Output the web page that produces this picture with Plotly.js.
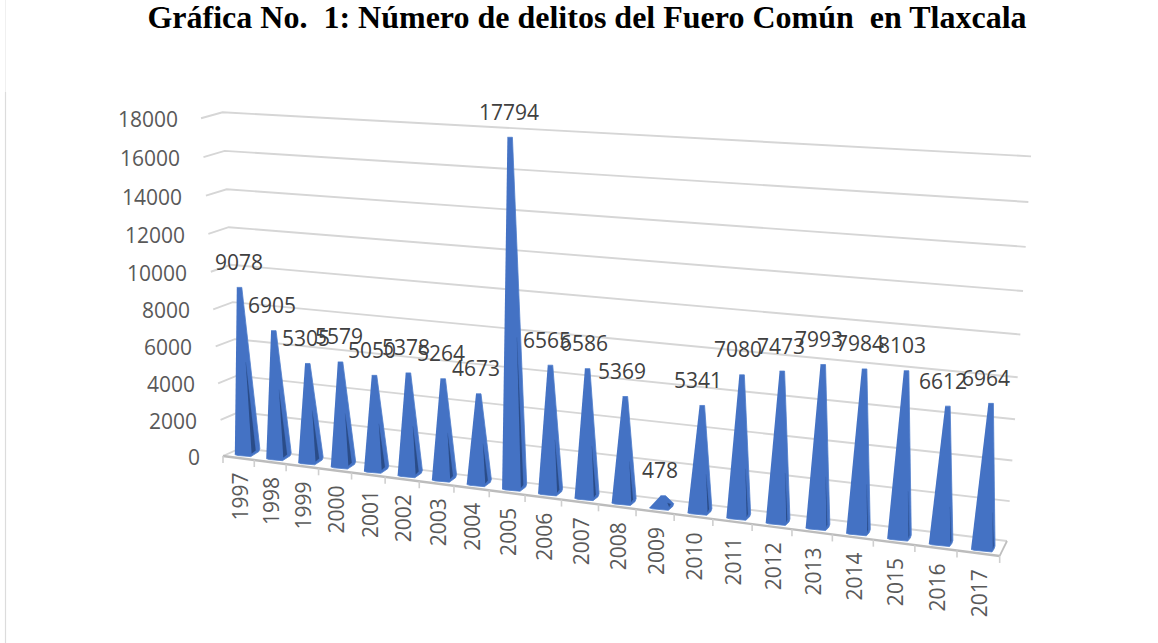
<!DOCTYPE html>
<html>
<head>
<meta charset="utf-8">
<script src="https://cdn.plot.ly/plotly-3.0.1.min.js"></script>
<style>html,body{margin:0;padding:0;background:#fff}#c{width:1158px;height:643px}</style>
</head>
<body>
<div id="c"></div>
<script>
const years = [1997,1998,1999,2000,2001,2002,2003,2004,2005,2006,2007,2008,2009,2010,2011,2012,2013,2014,2015,2016,2017];
const delitos = [9078,6905,5305,5579,5050,5378,5264,4673,17794,6565,6586,5369,478,5341,7080,7473,7993,7984,8103,6612,6964];
const yTicks = [0,2000,4000,6000,8000,10000,12000,14000,16000,18000];
const titleText = 'Gráfica No.\u00A0 1: Número de delitos del Fuero Común\u00A0 en Tlaxcala';
const labelNudge = {1997: 1, 2005: 2, 2012: 3};

const W = 1158, H = 643;
// Axis scales: x axis in year slots, y axis in delitos measured at the front-left corner.
const xa = p => 1997 + (p - 239.5) / 37;
const ya = p => (456 - p) * 18000 / 338;

// 3D-like projection of the Excel pyramid chart.
const slotX = s => 223 + 31 * s + 0.285 * s * s;
const floorY = x => 456 + 0.1287 * (x - 223);
const wall = v => {
  const k = v / 2000;
  return {
    fx: 223 - 2.44 * k, fy: 456 - (36 * k + 0.17 * k * k),
    lx: 241 - 2.05 * k, ly: 448 - (35.8 * k + 0.167 * k * k),
    rx: 1007 + 2.67 * k, ry: 541 - (39.5 * k + 0.36 * k * k)
  };
};
function bar(i, v) {
  const L = slotX(i + 0.38 - 0.0025 * i), y0 = floorY(L) - 3;
  const wF = 16 + 0.25 * i, wS = 9 - 0.3 * i, dy = 7 - 0.1 * i;
  const yF = y0 + 0.1287 * wF;
  const cx = L + (wF + wS) / 2, cy = y0 - 3;
  const ax = cx + 1.5 + (cx - 640) * 2.67e-6 * v;
  const ay = cy - v * (0.0176 + 0.000125 * i) * (1 + 3e-6 * v);
  return {L, y0, wF, wS, dy, yF, ax, ay};
}
const traces = [];
function poly(pts, fill, line, lw) {
  traces.push({
    type: 'scatter', mode: 'lines', x: pts.map(p => xa(p[0])), y: pts.map(p => ya(p[1])),
    fill: 'toself', fillcolor: fill, line: {color: line, width: lw}, hoverinfo: 'skip', showlegend: false
  });
}
function path(pts, color, w) {
  traces.push({
    type: 'scatter', mode: 'lines', x: pts.map(p => xa(p[0])), y: pts.map(p => ya(p[1])),
    line: {color: color, width: w}, hoverinfo: 'skip', showlegend: false
  });
}
// Gridlines on the side and back walls
yTicks.forEach(v => {
  const w = wall(v);
  path([[w.fx, w.fy], [w.lx, w.ly], [w.rx, w.ry]], '#d6d6d6', 1.9);
});
// Floor
const w0 = wall(0);
const fr = [slotX(21), floorY(slotX(21))];
path([[fr[0], fr[1]], [w0.rx, w0.ry]], '#bfbfbf', 1.8);
path([[w0.fx, w0.fy], fr], '#bcbcbc', 2.4);
for (let j = 0; j <= years.length; j++) {
  const x = slotX(j), y = floorY(x);
  path([[x, y], [x, y + 7]], '#cfcfcf', 1.6);
}
// Pyramids
years.forEach((yr, i) => {
  const b = bar(i, delitos[i]);
  const rx = b.L + b.wF, cxr = rx + b.wS, cy = b.yF - b.dy;
  poly([[b.L, b.y0], [b.L + 3, b.y0 + 1], [rx, b.yF], [cxr - 1, cy + 2], [cxr, cy - 1], [b.ax + 2.5, b.ay], [b.ax - 2.5, b.ay]],
       '#4472c4', '#4f7dcc', 0.8);
  const sw = Math.max(0.8, 4 - 0.2 * i), f = Math.max(0.15, 0.55 - 0.015 * i);
  const bx1 = rx + 0.8, by1 = b.yF - 3.2, bx2 = bx1 + sw, by2 = by1 - 3;
  const tx = (bx1 + bx2) / 2 + (b.ax - (bx1 + bx2) / 2) * f;
  const ty = by1 + (b.ay - by1) * f;
  poly([[bx1, by1], [bx2, by2], [tx, ty]], '#2a4c88', '#2a4c88', 0.2);
});

const ann = [];
const txt = (px, py, text, size, color, extra) => ann.push(Object.assign({
  x: xa(px), y: ya(py), xref: 'x', yref: 'y', text: String(text), showarrow: false,
  xanchor: 'center', yanchor: 'middle', font: {family: '"Open Sans", sans-serif', size: size, color: color}
}, extra || {}));
yTicks.forEach(v => {
  const w = wall(v);
  txt(w.fx - 21.5, w.fy + 1, v, 21, '#595959', {xanchor: 'right'});
});
years.forEach((yr, i) => {
  const x = slotX(i + 0.5);
  txt(x + 1, 497 + 0.13 * (x - 239.5), yr, 21, '#595959', {textangle: -90});
  const b = bar(i, delitos[i]);
  txt(b.ax - 1 - 0.2 * i + (labelNudge[yr] || 0), b.ay - 25.5, delitos[i], 21, '#404040');
});

const layout = {
  width: W, height: H, margin: {l: 0, r: 0, t: 0, b: 0},
  paper_bgcolor: '#fff', plot_bgcolor: '#fff', showlegend: false,
  title: {
    text: titleText, x: 587 / W, xanchor: 'center', xref: 'paper',
    y: 1 - 16.5 / H, yanchor: 'middle', yref: 'container',
    font: {family: '"Liberation Serif", serif', size: 32, color: '#000', weight: 'bold'}
  },
  xaxis: {visible: false, range: [xa(0), xa(W)], fixedrange: true},
  yaxis: {visible: false, range: [ya(H), ya(0)], fixedrange: true},
  annotations: ann,
  shapes: [
    {type: 'line', xref: 'paper', yref: 'paper', x0: 5.5 / W, x1: 5.5 / W, y0: 1, y1: 1 - 92 / H, line: {color: '#f0f0f0', width: 1}},
    {type: 'line', xref: 'paper', yref: 'paper', x0: 5.5 / W, x1: 5.5 / W, y0: 1 - 92 / H, y1: 0, line: {color: '#dcdcdc', width: 1.2}}
  ]
};
Plotly.newPlot('c', traces, layout, {displayModeBar: false, staticPlot: true});
</script>
</body>
</html>
